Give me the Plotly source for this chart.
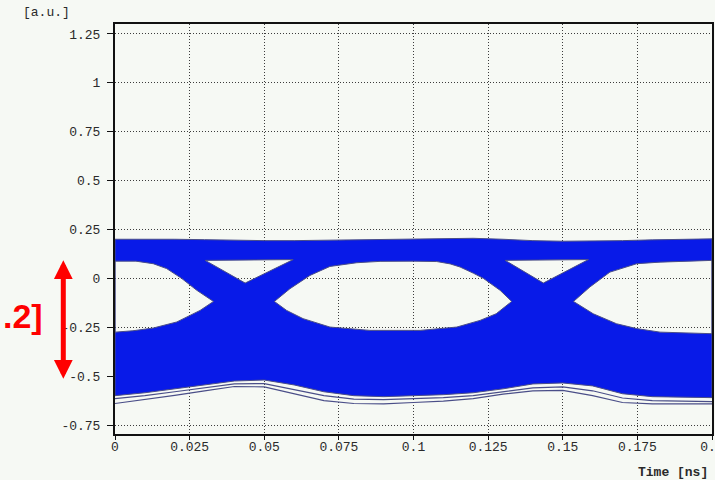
import plotly.graph_objects as go

# ---- eye diagram data (time in ns, amplitude in a.u.) ----
T_GRID = [0.00, 0.01, 0.02, 0.03, 0.04, 0.05, 0.06, 0.07, 0.08, 0.09, 0.10,
          0.11, 0.12, 0.13, 0.14, 0.15, 0.16, 0.17, 0.18, 0.19, 0.20]
# outer top of the "one" level band
TOP_EDGE = [0.200, 0.201, 0.200, 0.198, 0.195, 0.193, 0.193, 0.195, 0.197, 0.200, 0.203,
            0.205, 0.205, 0.200, 0.193, 0.190, 0.190, 0.193, 0.197, 0.200, 0.202]
# bottom of the dense "zero" level band
BOTTOM_EDGE = [-0.600, -0.585, -0.565, -0.545, -0.525, -0.520, -0.545, -0.580, -0.600, -0.605, -0.600,
               -0.595, -0.585, -0.565, -0.540, -0.535, -0.550, -0.590, -0.605, -0.608, -0.610]
# sparse outlier traces below the zero band
OUTLIER_A = [-0.615, -0.600, -0.580, -0.560, -0.540, -0.538, -0.570, -0.600, -0.618, -0.620, -0.615,
             -0.610, -0.600, -0.580, -0.560, -0.555, -0.575, -0.612, -0.625, -0.628, -0.630]
OUTLIER_B = [-0.640, -0.620, -0.598, -0.575, -0.553, -0.555, -0.590, -0.625, -0.640, -0.642, -0.635,
             -0.628, -0.615, -0.592, -0.575, -0.573, -0.600, -0.635, -0.642, -0.642, -0.642]

# eye openings (upper edge left->right, then lower edge right->left)
LEFT_EYE_T = [0.0, 0.007, 0.0128, 0.0173, 0.0223, 0.0274, 0.033, 0.0285, 0.0207, 0.0128, 0.006, 0.0, 0.0]
LEFT_EYE_V = [0.088, 0.088, 0.075, 0.050, 0.000, -0.061, -0.118, -0.164, -0.223, -0.254, -0.268, -0.275, 0.088]

CENTER_EYE_T = [0.0534, 0.0586, 0.0653, 0.072, 0.081, 0.0888, 0.100, 0.1078, 0.1123, 0.1156, 0.1201,
                0.1234, 0.129, 0.1329, 0.1277, 0.1223, 0.1145, 0.1022, 0.0854, 0.072, 0.063, 0.0575, 0.0534]
CENTER_EYE_V = [-0.118, -0.053, 0.015, 0.061, 0.080, 0.087, 0.088, 0.086, 0.074, 0.058, 0.026,
                0.000, -0.061, -0.118, -0.181, -0.215, -0.249, -0.266, -0.266, -0.249, -0.206, -0.164, -0.118]

RIGHT_EYE_T = [0.1536, 0.1591, 0.1658, 0.1748, 0.1826, 0.190, 0.200, 0.200, 0.190, 0.1826, 0.1748, 0.168, 0.1602, 0.1536]
RIGHT_EYE_V = [-0.118, -0.044, 0.032, 0.075, 0.083, 0.088, 0.092, -0.283, -0.280, -0.275, -0.257, -0.232, -0.181, -0.118]

# gaps above the crossing points
CROSS_GAP_A_T = [0.0302, 0.0597, 0.0436, 0.0302]
CROSS_GAP_B_T = [0.1307, 0.1586, 0.1435, 0.1307]
CROSS_GAP_V = [0.092, 0.096, -0.024, 0.092]

X_TICKS = [0, 0.025, 0.05, 0.075, 0.1, 0.125, 0.15, 0.175, 0.2]
X_LABELS = ["0", "0.025", "0.05", "0.075", "0.1", "0.125", "0.15", "0.175", "0.2"]
Y_TICKS = [-0.75, -0.5, -0.25, 0, 0.25, 0.5, 0.75, 1, 1.25]
Y_LABELS = ["-0.75", "-0.5", "-0.25", "0", "0.25", "0.5", "0.75", "1", "1.25"]

# amplitude marker beside the axis
MARK_TOP = 0.10
MARK_BOTTOM = -0.513
MARK_TEXT = ".2]"

BG = "#f6f9f4"
BLUE = "rgb(8,26,232)"
EDGE = "#4a4e88"
MONO = "Liberation Mono, DejaVu Sans Mono, monospace"

# Outer envelope (clockwise) with eye openings as reversed-winding holes
env_x = T_GRID + T_GRID[::-1] + [T_GRID[0]]
env_y = TOP_EDGE + BOTTOM_EDGE[::-1] + [TOP_EDGE[0]]
hole_x, hole_y = [], []
for tx, vy in [(LEFT_EYE_T, LEFT_EYE_V), (CENTER_EYE_T, CENTER_EYE_V),
               (RIGHT_EYE_T, RIGHT_EYE_V), (CROSS_GAP_A_T, CROSS_GAP_V),
               (CROSS_GAP_B_T, CROSS_GAP_V)]:
    hole_x += [None] + tx[::-1]
    hole_y += [None] + vy[::-1]

fig = go.Figure()
fig.add_trace(go.Scatter(
    x=env_x + hole_x, y=env_y + hole_y, mode="lines", fill="toself",
    fillcolor=BLUE, line=dict(color=EDGE, width=1), hoverinfo="skip",
    showlegend=False,
))
for trace in (OUTLIER_A, OUTLIER_B):
    fig.add_trace(go.Scatter(
        x=T_GRID, y=trace, mode="lines", line=dict(color=EDGE, width=1.2),
        hoverinfo="skip", showlegend=False,
    ))

axis_common = dict(
    showline=True, mirror=True, linecolor="#111", linewidth=2,
    showgrid=True, gridcolor="#3c3c3c", gridwidth=1, griddash="1px,2px",
    zeroline=False, ticks="outside", tickcolor="#111", automargin=False,
    tickfont=dict(family=MONO, size=13, color="#2a2a2a"),
)
fig.update_xaxes(range=[0, 0.2], tickvals=X_TICKS, ticktext=X_LABELS, ticklen=4,
                 ticklabelstandoff=-5, ticklabeloverflow="allow", **axis_common)
fig.update_yaxes(range=[-0.796, 1.301], tickvals=Y_TICKS, ticktext=Y_LABELS, ticklen=6,
                 ticklabelstandoff=4, **axis_common)

fig.add_annotation(text="[a.u.]", xref="paper", yref="paper", x=-0.158, y=1.027,
                   xanchor="left", yanchor="middle", showarrow=False,
                   font=dict(family=MONO, size=13, color="#2a2a2a"))
fig.add_annotation(text="<b>Time [ns]</b>", xref="paper", yref="paper", x=0.997, y=-0.095,
                   xanchor="right", yanchor="middle", showarrow=False,
                   font=dict(family=MONO, size=13, color="#2a2a2a"))

# red double-headed arrow and its label
fig.add_annotation(text="", xref="paper", yref="y", x=-0.0866, y=MARK_BOTTOM,
                   axref="pixel", ayref="y", ax=0, ay=MARK_TOP,
                   showarrow=True, arrowside="end+start", arrowhead=2, startarrowhead=2,
                   arrowsize=0.75, startarrowsize=0.75, arrowwidth=5, arrowcolor="#ff0000",
                   standoff=0, startstandoff=0)
fig.add_annotation(text="<b>" + MARK_TEXT + "</b>", xref="paper", yref="y", x=-0.117, y=-0.194,
                   xanchor="right", yanchor="middle", showarrow=False,
                   font=dict(family="Liberation Sans, Arial, sans-serif", size=34, color="#ff0000"))

fig.update_layout(
    width=715, height=480,
    margin=dict(l=115, r=3, t=24, b=46),
    paper_bgcolor=BG, plot_bgcolor=BG,
    showlegend=False,
)

fig.write_html("out.html")
